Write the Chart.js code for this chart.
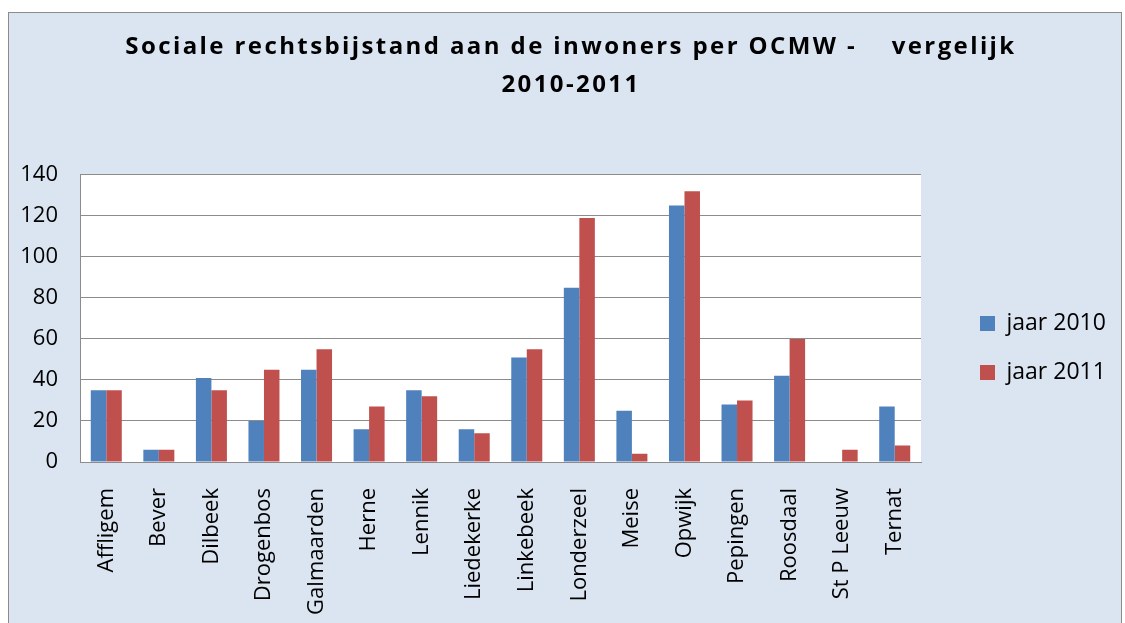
<!DOCTYPE html>
<html>
<head>
<meta charset="utf-8">
<script src="https://cdn.jsdelivr.net/npm/chart.js@4/dist/chart.umd.min.js"></script>
<style>
  html, body { margin: 0; padding: 0; background: #ffffff; }
  #c { display: block; }
</style>
</head>
<body>
<canvas id="c" width="1125" height="623"></canvas>
<script>
const categories = ["Affligem", "Bever", "Dilbeek", "Drogenbos", "Galmaarden", "Herne", "Lennik", "Liedekerke", "Linkebeek", "Londerzeel", "Meise", "Opwijk", "Pepingen", "Roosdaal", "St P Leeuw", "Ternat"];
const values2010 = [35, 6, 41, 20, 45, 16, 35, 16, 51, 85, 25, 125, 28, 42, 0, 27];
const values2011 = [35, 6, 35, 45, 55, 27, 32, 14, 55, 119, 4, 132, 30, 60, 6, 8];
const seriesNames = ["jaar 2010", "jaar 2011"];
const yTicks = [0, 20, 40, 60, 80, 100, 120, 140];
const titleLines = ["Sociale rechtsbijstand aan de inwoners per OCMW -    vergelijk", "2010-2011"];

Chart.defaults.color = '#000000';
Chart.defaults.font.family = "'Open Sans', sans-serif";

const bgPlugin = {
  id: 'bgPlugin',
  beforeDraw(chart) {
    const ctx = chart.ctx;
    const ca = chart.chartArea;
    ctx.save();
    ctx.fillStyle = '#ffffff';
    ctx.fillRect(0, 0, chart.width, chart.height);
    ctx.fillStyle = '#DBE5F1';
    ctx.fillRect(8, 12, chart.width - 11, chart.height - 12);
    ctx.strokeStyle = '#8c8c8c';
    ctx.lineWidth = 1;
    ctx.strokeRect(8.5, 12.5, chart.width - 12, chart.height);
    ctx.fillStyle = '#ffffff';
    ctx.fillRect(ca.left, ca.top, ca.right - ca.left, ca.bottom - ca.top);
    ctx.restore();
  },
  afterLayout(chart) {
    const lg = chart.legend;
    if (lg) {
      const w = lg.right - lg.left, h = lg.bottom - lg.top;
      lg.left = 954; lg.right = 954 + w;
      lg.top = 286; lg.bottom = 286 + h;
    }
    const tb = chart.titleBlock;
    if (tb) {
      tb.left = 8; tb.right = 1134;
    }
  }
};

const chart = new Chart(document.getElementById('c'), {
  type: 'bar',
  data: {
    labels: categories,
    datasets: [
      { label: seriesNames[0], data: values2010, backgroundColor: '#4F81BD', borderWidth: 0 },
      { label: seriesNames[1], data: values2011, backgroundColor: '#C0504D', borderWidth: 0 }
    ]
  },
  options: {
    responsive: false,
    animation: false,
    datasets: { bar: { barPercentage: 1.0, categoryPercentage: 0.59 } },
    layout: { padding: { left: 0, right: 0, top: 0, bottom: 0 } },
    plugins: {
      title: {
        display: true,
        text: titleLines,
        color: '#000000',
        font: { size: 24, weight: 'bold', lineHeight: 1.6 },
        padding: { top: 28, bottom: 70 }
      },
      legend: {
        position: 'right',
        align: 'start',
        fullSize: false,
        labels: {
          boxWidth: 15,
          boxHeight: 15,
          padding: 26,
          color: '#000000',
          font: { size: 23 }
        }
      },
      tooltip: { enabled: false }
    },
    scales: {
      x: {
        grid: { display: false, drawTicks: false },
        border: { display: true, color: '#8c8c8c', width: 1 },
        ticks: {
          minRotation: 90, maxRotation: 90, autoSkip: false,
          padding: 26,
          font: { size: 22 },
          color: '#000000'
        },
        afterFit(scale) { scale.height = 161; }
      },
      y: {
        min: 0, max: 140,
        grid: { color: '#8c8c8c', lineWidth: 1, drawTicks: false },
        border: { display: true, color: '#8c8c8c', width: 1 },
        afterBuildTicks(scale) { scale.ticks = yTicks.map(v => ({ value: v })); },
        ticks: { padding: 22, font: { size: 22 }, color: '#000000' },
        afterFit(scale) { scale.width = 80; }
      }
    }
  },
  plugins: [bgPlugin]
});

// fix the legend box width so the plot area ends where the reference's does
const lg = chart.legend;
const origFit = lg.fit.bind(lg);
lg.fit = function () { origFit(); this.width = 204; };
// letter-spaced title, as in the reference
const tb = chart.titleBlock;
const origDraw = tb.draw.bind(tb);
tb.draw = function () {
  const ctx = this.ctx;
  const prev = ctx.letterSpacing;
  ctx.letterSpacing = '2.4px';
  origDraw();
  ctx.letterSpacing = prev || '0px';
};
chart.update();
</script>
</body>
</html>
